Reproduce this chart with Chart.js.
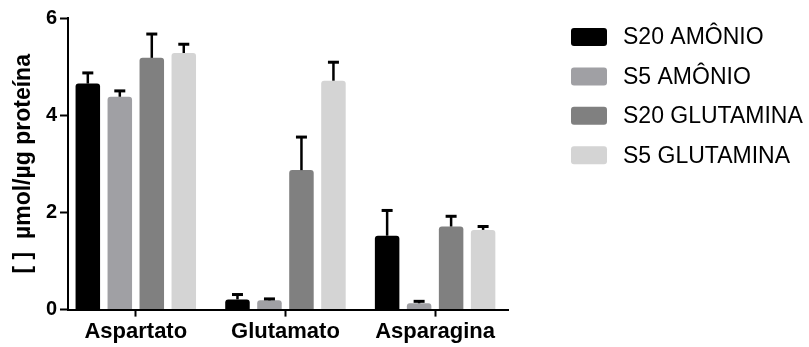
<!DOCTYPE html>
<html>
<head>
<meta charset="utf-8">
<script src="https://cdn.jsdelivr.net/npm/chart.js@4"></script>
<style>
  html, body { margin: 0; padding: 0; background: #fff; }
  #wrap { width: 809px; height: 347px; position: relative; }
</style>
</head>
<body>
<div id="wrap"><canvas id="c" width="809" height="347"></canvas></div>
<script>
// Amino acids measured
const categories = ['Aspartato', 'Glutamato', 'Asparagina'];

// Groups (legend labels)
const seriesNames = ['S20 AMÔNIO', 'S5 AMÔNIO', 'S20 GLUTAMINA', 'S5 GLUTAMINA'];

// Mean concentration (µmol/µg proteína) per group, one entry per amino acid
const s20Amonio     = [4.65, 0.21, 1.52];
const s5Amonio      = [4.38, 0.19, 0.13];
const s20Glutamina  = [5.18, 2.87, 1.71];
const s5Glutamina   = [5.28, 4.71, 1.64];

// Upper error (SD) per group
const s20AmonioErr    = [0.22, 0.10, 0.52];
const s5AmonioErr     = [0.12, 0.03, 0.04];
const s20GlutaminaErr = [0.49, 0.68, 0.21];
const s5GlutaminaErr  = [0.18, 0.38, 0.07];

// Y axis ticks
const yTicks = [0, 2, 4, 6];

const seriesValues = [s20Amonio, s5Amonio, s20Glutamina, s5Glutamina];
const seriesErrors = [s20AmonioErr, s5AmonioErr, s20GlutaminaErr, s5GlutaminaErr];
const seriesColors = ['#000000', '#a0a0a4', '#808080', '#d4d4d4'];

const FONT = "'Liberation Sans', Arial, Helvetica, sans-serif";

// Upward-only error bars with a cap
const errorBars = {
  id: 'errorBars',
  afterDatasetsDraw(chart) {
    const { ctx } = chart;
    const y = chart.scales.y;
    ctx.save();
    ctx.strokeStyle = '#000';
    chart.data.datasets.forEach((ds, di) => {
      const meta = chart.getDatasetMeta(di);
      meta.data.forEach((bar, i) => {
        const v = seriesValues[di][i];
        const e = seriesErrors[di][i];
        const yTop = y.getPixelForValue(v);
        const yErr = y.getPixelForValue(v + e);
        ctx.lineWidth = 2.5;
        ctx.beginPath();
        ctx.moveTo(bar.x, yTop);
        ctx.lineTo(bar.x, yErr);
        ctx.stroke();
        ctx.lineWidth = 3;
        ctx.beginPath();
        ctx.moveTo(bar.x - 5.5, yErr);
        ctx.lineTo(bar.x + 5.5, yErr);
        ctx.stroke();
      });
    });
    ctx.restore();
  }
};

// Legend drawn to the right of the plot area
const sideLegend = {
  id: 'sideLegend',
  afterDraw(chart, args, opts) {
    const { ctx } = chart;
    ctx.save();
    chart.data.datasets.forEach((ds, i) => {
      const cy = opts.top + i * opts.rowGap;
      ctx.fillStyle = ds.backgroundColor;
      ctx.beginPath();
      ctx.roundRect(opts.left, cy - opts.boxH / 2, opts.boxW, opts.boxH, 3);
      ctx.fill();
      ctx.fillStyle = '#000';
      ctx.font = opts.font;
      ctx.textAlign = 'left';
      ctx.textBaseline = 'middle';
      ctx.fillText(ds.label, opts.left + opts.boxW + opts.textGap, cy + 1);
    });
    ctx.restore();
  }
};

const datasets = seriesNames.map((name, si) => ({
  label: name,
  data: seriesValues[si].map((v, i) => ({ x: i, y: v })),
  backgroundColor: seriesColors[si],
  borderWidth: 0,
  borderRadius: 3,
  borderSkipped: 'bottom',
  categoryPercentage: 0.855,
  barPercentage: 0.766
}));

new Chart(document.getElementById('c'), {
  type: 'bar',
  data: { datasets },
  plugins: [errorBars, sideLegend],
  options: {
    responsive: false,
    animation: false,
    devicePixelRatio: 1,
    layout: { padding: { left: 0, right: 301, top: 18, bottom: 0 } },
    plugins: {
      legend: { display: false },
      tooltip: { enabled: false },
      sideLegend: {
        left: 571, top: 37, rowGap: 39.4, boxW: 36, boxH: 18, textGap: 16,
        font: '23px ' + FONT
      }
    },
    scales: {
      x: {
        type: 'linear',
        min: -0.453,
        max: 2.487,
        offset: false,
        afterBuildTicks(scale) {
          scale.ticks = categories.map((c, i) => ({ value: i }));
        },
        ticks: {
          includeBounds: false,
          stepSize: 1,
          color: '#000',
          padding: 2,
          maxRotation: 0,
          font: { family: FONT, size: 22, weight: 'bold' },
          callback: (v) => categories[v] ?? ''
        },
        grid: {
          display: true,
          offset: false,
          drawOnChartArea: false,
          drawTicks: true,
          tickLength: 7,
          tickWidth: 2,
          tickColor: '#000'
        },
        border: { display: true, color: '#000', width: 2 }
      },
      y: {
        min: 0,
        max: 6,
        afterFit(scale) { scale.width = 68; },
        afterBuildTicks(scale) {
          scale.ticks = yTicks.map(v => ({ value: v }));
        },
        ticks: {
          color: '#000',
          padding: 3,
          font: { family: FONT, size: 20, weight: 'bold' }
        },
        grid: {
          display: true,
          drawOnChartArea: false,
          drawTicks: true,
          tickLength: 8,
          tickWidth: 2,
          tickColor: '#000'
        },
        border: { display: true, color: '#000', width: 2 },
        title: {
          display: true,
          text: '[ ]  µmol/µg proteína',
          color: '#000',
          padding: { top: 10, bottom: 0 },
          font: { family: FONT, size: 23, weight: 'bold' }
        }
      }
    }
  }
});
</script>
</body>
</html>
